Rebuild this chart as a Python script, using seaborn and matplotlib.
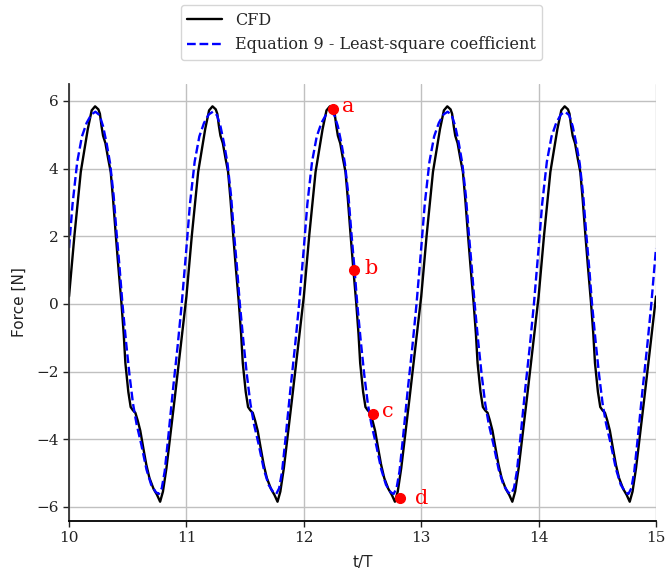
import numpy as np
import pandas as pd
import matplotlib
matplotlib.use("Agg")
import matplotlib.pyplot as plt
import seaborn as sns

# ---- data (one period of each signal, repeated per cycle) ----
periods = [10, 11, 12, 13, 14]

cfd_phase = [0.000, 0.046, 0.100, 0.160, 0.193, 0.222, 0.250, 0.263, 0.277, 0.290,
             0.310, 0.333, 0.355, 0.375, 0.398, 0.420, 0.435, 0.447, 0.466, 0.480,
             0.505, 0.525, 0.545, 0.565, 0.585, 0.607, 0.632, 0.658, 0.685, 0.720,
             0.750, 0.776, 0.800, 0.830, 0.860, 0.900, 0.940, 0.993]
cfd_force = [0.22, 2.02, 3.90, 5.17, 5.72, 5.84, 5.75, 5.62, 5.25, 4.97,
             4.75, 4.30, 3.90, 3.10, 2.05, 1.10, 0.50, 0.00, -0.90, -1.75,
             -2.60, -3.05, -3.15, -3.22, -3.45, -3.75, -4.25, -4.75, -5.15, -5.47,
             -5.65, -5.85, -5.55, -4.85, -3.98, -2.80, -1.60, 0.00]

eq9_phase = [0.000, 0.030, 0.070, 0.110, 0.150, 0.190, 0.225, 0.260, 0.290, 0.320,
             0.350, 0.380, 0.405, 0.430, 0.455, 0.485, 0.515, 0.545, 0.575, 0.615,
             0.660, 0.700, 0.740, 0.765, 0.790, 0.815, 0.845, 0.885, 0.925, 0.960]
eq9_force = [1.65, 2.95, 4.20, 4.95, 5.35, 5.60, 5.68, 5.58, 5.25, 4.75,
             4.15, 3.20, 2.10, 1.10, 0.00, -1.10, -2.10, -2.95, -3.55, -4.15,
             -4.90, -5.35, -5.57, -5.62, -5.45, -4.95, -3.95, -2.55, -1.25, 0.00]

point_labels = ["a", "b", "c", "d"]
point_t = [12.245, 12.43, 12.585, 12.815]
point_f = [5.76, 0.99, -3.25, -5.74]

x_ticks = [10, 11, 12, 13, 14, 15]
y_ticks = [-6, -4, -2, 0, 2, 4, 6]

# build the time series (same cycle each period)
def build(phase, force, last):
    t = np.concatenate([p + np.array(phase) for p in periods] + [np.array([periods[-1] + 1.0])])
    f = np.concatenate([np.array(force) for _ in periods] + [np.array([last])])
    return pd.DataFrame({"t": t, "F": f})

cfd = build(cfd_phase, cfd_force, cfd_force[0])
eq9 = build(eq9_phase, eq9_force, eq9_force[0])

sns.set_style("ticks")
plt.rcParams["font.family"] = ["DejaVu Serif"]

fig = plt.figure(figsize=(6.65, 5.75), dpi=100)
ax = fig.add_axes([0.1038, 0.0939, 0.8827, 0.760])

sns.lineplot(data=cfd, x="t", y="F", ax=ax, color="black", lw=1.7,
             sort=False, estimator=None, label="CFD", legend=False)
sns.lineplot(data=eq9, x="t", y="F", ax=ax, color="blue", lw=1.7,
             sort=False, estimator=None, label="Equation 9 - Least-square coefficient",
             legend=False)
ax.lines[1].set_linestyle("--")

ax.plot(point_t, point_f, "o", color="red", markersize=7, zorder=5)
offs = [(7, 2), (7, 1.5), (7, 1.5), (11, 0)]
for lab, tx, fy, o in zip(point_labels, point_t, point_f, offs):
    ax.annotate(lab, (tx, fy), xytext=o, textcoords="offset points",
                color="red", fontsize=15, ha="left", va="center",
                family="DejaVu Serif")

ax.set_xlim(10, 15)
ax.set_ylim(-6.42, 6.5)
ax.set_xticks(x_ticks)
ax.set_yticks(y_ticks)
ax.tick_params(axis="both", labelsize=11, colors="#222222", length=4, width=1.0)
for lbl in ax.get_xticklabels() + ax.get_yticklabels():
    lbl.set_family("DejaVu Serif")
ax.grid(True, color="#c0c0c0", lw=1.0)
ax.set_axisbelow(True)

sns.despine(ax=ax, top=True, right=True)
ax.spines["left"].set_color("#333333")
ax.spines["left"].set_linewidth(1.3)
ax.spines["bottom"].set_color("black")
ax.spines["bottom"].set_linewidth(1.3)

ax.set_xlabel("t/T", fontsize=11, family="DejaVu Sans", color="#222222", labelpad=7)
ax.set_ylabel("Force [N]", fontsize=11, family="DejaVu Sans", color="#222222", labelpad=7)

handles, labels = ax.get_legend_handles_labels()
fig.legend(handles, labels, loc="upper center", bbox_to_anchor=(0.5436, 1.005),
           prop={"family": "DejaVu Serif", "size": 11.5}, frameon=True,
           edgecolor="#cccccc", fancybox=True, handlelength=2.2)

fig.savefig("out.png", dpi=100)
